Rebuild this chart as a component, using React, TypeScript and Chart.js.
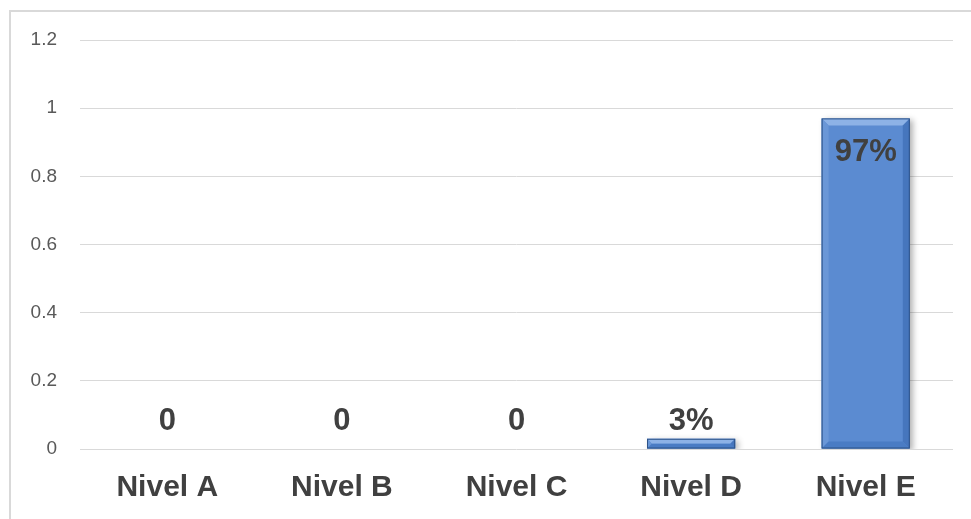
import React, { useEffect, useRef } from "react";
import { Chart, registerables } from "chart.js";

Chart.register(...registerables);

const categories = ["Nivel A", "Nivel B", "Nivel C", "Nivel D", "Nivel E"];
const values = [0, 0, 0, 0.03, 0.97];
const valueLabels = ["0", "0", "0", "3%", "97%"];
const insideLabel = [false, false, false, false, true];
const yMin = 0;
const yMax = 1.2;
const yStep = 0.2;

const FONT = "'Liberation Sans', Arial, sans-serif";
const TEXT = "#404040";

const bevelPlugin = {
  id: "bevel",
  beforeDatasetsDraw(chart: any) {
    const ctx = chart.ctx;
    ctx.save();
    ctx.shadowColor = "rgba(0,0,0,0.3)";
    ctx.shadowBlur = 6;
    ctx.shadowOffsetX = 3;
    ctx.shadowOffsetY = 2;
  },
  afterDatasetsDraw(chart: any) {
    const ctx = chart.ctx;
    ctx.restore();
    const meta = chart.getDatasetMeta(0);
    meta.data.forEach((bar: any) => {
      const h = bar.base - bar.y;
      if (h <= 0.5) return;
      const left = bar.x - bar.width / 2;
      const right = bar.x + bar.width / 2;
      const top = bar.y;
      const bottom = bar.base;
      const b = Math.min(7, h / 2);
      ctx.save();
      ctx.beginPath();
      ctx.moveTo(left, top);
      ctx.lineTo(right, top);
      ctx.lineTo(right - b, top + b);
      ctx.lineTo(left + b, top + b);
      ctx.closePath();
      ctx.fillStyle = "#8db2e6";
      ctx.fill();
      ctx.beginPath();
      ctx.moveTo(left, top);
      ctx.lineTo(left + b, top + b);
      ctx.lineTo(left + b, bottom - b);
      ctx.lineTo(left, bottom);
      ctx.closePath();
      ctx.fillStyle = "#6a97d7";
      ctx.fill();
      ctx.beginPath();
      ctx.moveTo(right, top);
      ctx.lineTo(right - b, top + b);
      ctx.lineTo(right - b, bottom - b);
      ctx.lineTo(right, bottom);
      ctx.closePath();
      ctx.fillStyle = "#4676bd";
      ctx.fill();
      ctx.beginPath();
      ctx.moveTo(left, bottom);
      ctx.lineTo(left + b, bottom - b);
      ctx.lineTo(right - b, bottom - b);
      ctx.lineTo(right, bottom);
      ctx.closePath();
      ctx.fillStyle = "#4a7cc4";
      ctx.fill();
      ctx.strokeStyle = "#2d5287";
      ctx.lineWidth = 1;
      ctx.strokeRect(left + 0.5, top + 0.5, bar.width - 1, h - 1);
      ctx.restore();
    });

    const yScale = chart.scales.y;
    ctx.save();
    ctx.font = "bold 31px " + FONT;
    ctx.fillStyle = TEXT;
    ctx.textAlign = "center";
    ctx.textBaseline = "middle";
    meta.data.forEach((bar: any, i: number) => {
      let cy: number;
      if (insideLabel[i]) {
        cy = bar.y + 34;
      } else {
        cy = Math.min(bar.y, yScale.getPixelForValue(0.03)) - 17;
      }
      ctx.fillText(valueLabels[i], bar.x, cy);
    });
    ctx.restore();
  },
};

export default function App() {
  const canvasRef = useRef<HTMLCanvasElement | null>(null);

  useEffect(() => {
    const canvas = canvasRef.current;
    if (!canvas) return;
    const chart = new Chart(canvas, {
      type: "bar",
      data: {
        labels: categories,
        datasets: [
          {
            data: values,
            backgroundColor: "#5b8bd1",
            borderWidth: 0,
            categoryPercentage: 1,
            barPercentage: 0.505,
          },
        ],
      },
      options: {
        animation: false,
        responsive: false,
        maintainAspectRatio: false,
        layout: { padding: { top: 40, left: 0, right: 18, bottom: 0 } },
        plugins: {
          legend: { display: false },
          tooltip: { enabled: false },
        },
        scales: {
          x: {
            grid: { display: false, drawTicks: false },
            border: { display: false },
            ticks: {
              padding: 21,
              color: TEXT,
              font: { family: FONT, size: 30, weight: "bold" },
            },
            afterFit(scale: any) {
              scale.height = 70;
            },
          },
          y: {
            min: yMin,
            max: yMax,
            grid: { color: "#d9d9d9", lineWidth: 1, drawTicks: false },
            border: { display: false },
            ticks: {
              stepSize: yStep,
              padding: 23,
              color: "#595959",
              font: { family: FONT, size: 19 },
              callback: (v: any) => String(Math.round(Number(v) * 10) / 10),
            },
            afterFit(scale: any) {
              scale.width = 80;
            },
          },
        },
      },
      plugins: [bevelPlugin],
    });
    return () => chart.destroy();
  }, []);

  return (
    <div style={{ position: "fixed", left: 0, top: 0, width: 971, height: 519, background: "#fff", overflow: "hidden" }}>
      <div
        style={{
          position: "absolute",
          left: 9,
          top: 10,
          width: 980,
          height: 530,
          border: "2px solid #d9d9d9",
          boxSizing: "border-box",
        }}
      />
      <canvas
        ref={canvasRef}
        width={971}
        height={519}
        style={{ position: "absolute", left: 0, top: 0, width: 971, height: 519 }}
      />
    </div>
  );
}
